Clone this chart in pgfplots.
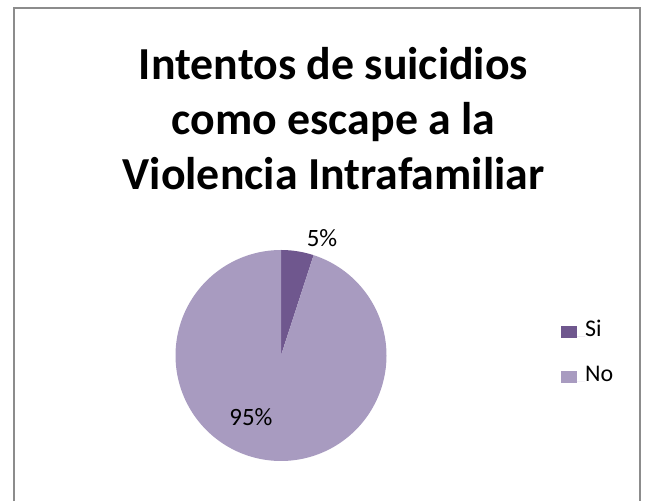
\documentclass[border=0pt]{standalone}
\usepackage{pgfplots}
\pgfplotsset{compat=1.18}
\usepackage{fontspec}
\setmainfont{Carlito}
\definecolor{siC}{HTML}{6F578E}
\definecolor{noC}{HTML}{A89BC0}
\definecolor{frameC}{HTML}{8C8C8C}
\begin{document}
\begin{tikzpicture}
\def\cx{281}\def\cy{145.5}\def\R{105.5}
\def\valSi{5}\def\valNo{95}
\pgfmathsetmacro\aS{90-360*\valSi/(\valSi+\valNo)}
\begin{axis}[scale only axis, width=645bp, height=501bp,
  xmin=0, xmax=645, ymin=0, ymax=501, hide axis, clip=false,
  legend cell align=left,
  legend image code/.code={\fill[#1] (0bp,-2bp) rectangle (16bp,10bp); \path (0bp,0bp) -- (24bp,0bp);},
  legend style={draw=none, fill=none, at={(561/645,1-322/501)}, anchor=north west,
    font=\fontsize{24}{28}\selectfont, row sep=28bp, inner sep=0pt,
    nodes={inner sep=0pt, anchor=base west, text height=14bp, text depth=3bp}},
]
\path (axis cs:0,0) rectangle (axis cs:645,501);
\draw[frameC, line width=2bp] (axis cs:14,0) |- (axis cs:640,493) -- (axis cs:640,0);
\addplot[fill=siC, draw=none, domain=\aS:90, samples=30]
  ({\cx+\R*cos(x)}, {\cy+\R*sin(x)}) -- (axis cs:\cx,\cy) -- cycle;
\addlegendentry{Si}
\addplot[fill=noC, draw=none, domain=-270:\aS, samples=200]
  ({\cx+\R*cos(x)}, {\cy+\R*sin(x)}) -- (axis cs:\cx,\cy) -- cycle;
\addlegendentry{No}
\node[font=\bfseries\fontsize{46}{52}\selectfont, anchor=base] at (axis cs:333.5,421.7) {Intentos de suicidios};
\node[font=\bfseries\fontsize{46}{52}\selectfont, anchor=base] at (axis cs:333.5,366.5) {como escape a la};
\node[font=\bfseries\fontsize{46}{52}\selectfont, anchor=base] at (axis cs:333.5,311) {Violencia Intrafamiliar};
\node[font=\fontsize{25}{29}\selectfont] at (axis cs:322,263) {5\%};
\node[font=\fontsize{25}{29}\selectfont] at (axis cs:251,84) {95\%};
\end{axis}
\end{tikzpicture}
\end{document}
